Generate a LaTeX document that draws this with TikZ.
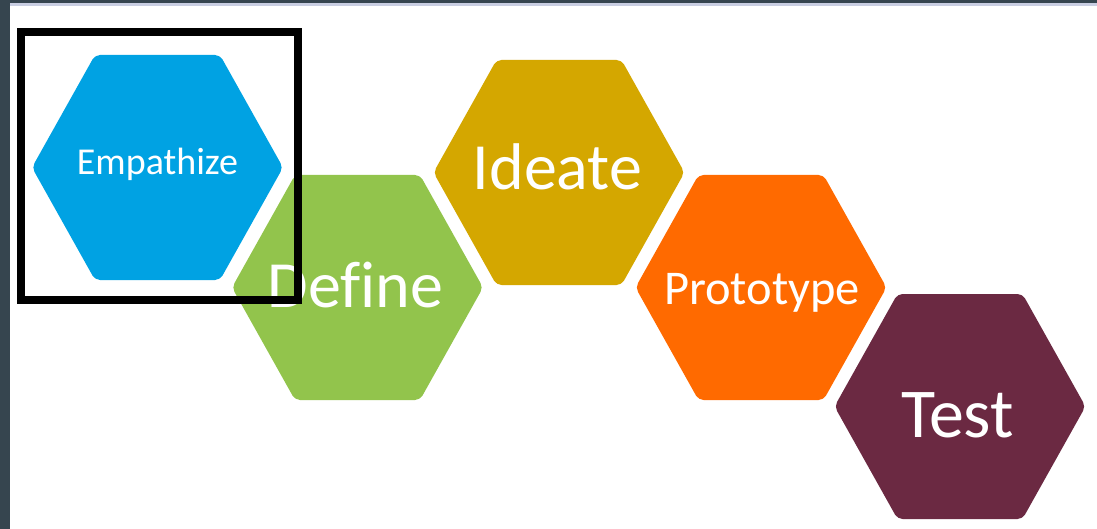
\documentclass[tikz,border=0pt]{standalone}
\usepackage{fontspec}
\setmainfont[Ligatures={NoCommon}]{Carlito}
\definecolor{frameDark}{HTML}{36454F}
\definecolor{frameLight}{HTML}{C9CEE2}
\definecolor{empBlue}{HTML}{00A2E3}
\definecolor{defGreen}{HTML}{92C44C}
\definecolor{ideGold}{HTML}{D4A700}
\definecolor{proOrange}{HTML}{FF6A00}
\definecolor{tstMaroon}{HTML}{6B2942}
\tikzset{
  hexa/.pic={
    \fill[rounded corners=5pt]
      (-125.5,0) -- (-62.5,-112.5) -- (62.5,-112.5) -- (125.5,0)
      -- (62.5,112.5) -- (-62.5,112.5) -- cycle;
  },
  stage label/.style={text=white, anchor=base, inner sep=0pt},
  label big/.style={stage label, font=\fontsize{66}{79}\selectfont},
  label test/.style={stage label, font=\fontsize{70}{84}\selectfont},
  label mid/.style={stage label, font=\fontsize{48.5}{58}\selectfont},
  label small/.style={stage label, font=\fontsize{38}{46}\selectfont},
}
\begin{document}
\begin{tikzpicture}[x=1pt,y=-1pt]
  \useasboundingbox (0,0) rectangle (1097,529);
  \fill[white] (0,0) rectangle (1097,529);
  % window frame
  \fill[frameDark] (0,0) rectangle (10,529);
  \fill[frameDark] (0,0) rectangle (1097,3);
  \fill[frameLight] (10,3) rectangle (1097,6);

  % the five stages
  \pic[empBlue]   at (157.5,167.5) {hexa};
  \pic[defGreen]  at (357.5,287.5) {hexa};
  \pic[ideGold]   at (559,172.5)   {hexa};
  \pic[proOrange] at (761,287.5)   {hexa};
  \pic[tstMaroon] at (960,406.5)   {hexa};

  \node[label small] (empathize) at (157.5,175) {Empathize};
  \node[label big]   (define)    at (355.5,307) {Define};
  \node[label big]   (ideate)    at (557.5,190) {Ideate};
  \node[label mid]   (prototype) at (762,305)   {Prototype};
  \node[label test]  (test)      at (957.5,437) {Test};

  % highlight box around the first stage
  \draw[black, line width=7.5pt] (21,32) rectangle (298,300);
\end{tikzpicture}
\end{document}
